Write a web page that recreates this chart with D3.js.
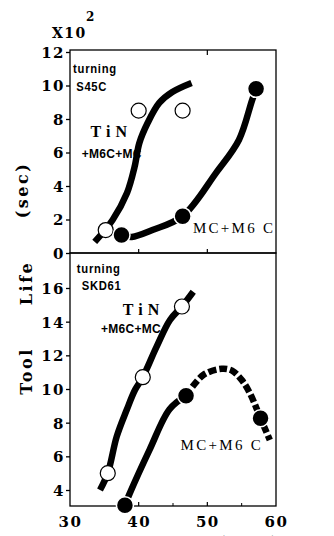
<!DOCTYPE html>
<html>
<head>
<meta charset="utf-8">
<script src="https://cdn.jsdelivr.net/npm/d3@7"></script>
<style>
  body { margin: 0; background: #fff; }
  svg { display: block; }
  .tick text { font-family: "DejaVu Serif", serif; font-weight: bold; font-size: 15px; letter-spacing: 1.5px; }
</style>
</head>
<body>
<svg id="chart"></svg>
<script>
var W = 334, H = 536;

// x: vol% of carbides
var xTicks = [30, 40, 50, 60];
var topYTicks = [0, 2, 4, 6, 8, 10, 12];
var botYTicks = [4, 6, 8, 10, 12, 14, 16];

// top panel (S45C), tool life x10^2 sec
var topTinLine = [[33.6, 0.66], [36.2, 1.97], [38.3, 3.58], [39.4, 5.13], [40.1, 6.57], [41.3, 7.76], [43.0, 8.96], [44.9, 9.61], [47.7, 10.15]];
var topTinPts = [[35.2, 1.37], [40.0, 8.5], [46.4, 8.5]];
var topMcLine = [[37.5, 1.07], [39.0, 0.96], [42.0, 1.37], [46.4, 2.2], [51.3, 4.8], [54.6, 6.75], [56.5, 9.1], [57.1, 9.8]];
var topMcPts = [[37.5, 1.07], [46.4, 2.2], [57.1, 9.8]];

// bottom panel (SKD61)
var botTinLine = [[34.37, 4.0], [35.5, 5.0], [36.8, 7.17], [38.25, 8.75], [39.46, 9.94], [40.6, 10.7], [42.6, 12.5], [44.56, 14.1], [46.3, 14.9], [47.95, 15.78]];
var botTinPts = [[35.5, 5.0], [40.6, 10.7], [46.3, 14.9]];
var botMcSolid = [[38.0, 3.1], [38.7, 3.8], [41.6, 6.4], [44.5, 8.8], [46.9, 9.6]];
var botMcDash = [[46.9, 9.6], [49.4, 10.83], [52.1, 11.2], [53.6, 11.09], [55.0, 10.54], [56.2, 9.75], [57.75, 8.26], [59.1, 6.97]];
var botMcPts = [[38.0, 3.1], [46.9, 9.6], [57.75, 8.26]];

var svg = d3.select("#chart").attr("width", W).attr("height", H);

var x = d3.scaleLinear().domain([30, 60]).range([70, 276]);
var yTop = d3.scaleLinear().domain([0, 12]).range([253, 52]);
var yBot = d3.scaleLinear().domain([4, 16]).range([490, 288]);

var slabFont = "'DejaVu Serif', serif";

function panel(yS, yTicks, y0, y1) {
  var g = svg.append("g");
  g.append("rect")
    .attr("x", x(30)).attr("y", y0)
    .attr("width", x(60) - x(30)).attr("height", y1 - y0)
    .attr("fill", "none").attr("stroke", "#000").attr("stroke-width", 1.3);

  var ax = g.append("g")
    .attr("transform", "translate(" + x(30) + ",0)")
    .call(d3.axisLeft(yS).tickValues(yTicks).tickSize(4).tickPadding(1).tickFormat(d3.format("d")));
  ax.select(".domain").remove();
  ax.selectAll("line").attr("stroke-width", 1.3);
  ax.selectAll("text").attr("dy", "0.36em");

  // small inward ticks on the bottom edge
  [40, 50].forEach(function(v) {
    g.append("line").attr("x1", x(v)).attr("x2", x(v))
      .attr("y1", y1).attr("y2", y1 - 4).attr("stroke", "#000").attr("stroke-width", 1.2);
  });
  return g;
}

var gTop = panel(yTop, topYTicks, 50, 253);
var gBot = panel(yBot, botYTicks, 253, 506);
gTop.append("line").attr("x1", x(50)).attr("x2", x(50)).attr("y1", 50).attr("y2", 55)
  .attr("stroke", "#000").attr("stroke-width", 1.2);
[45, 55].forEach(function(v) {
  gBot.append("line").attr("x1", x(v)).attr("x2", x(v))
    .attr("y1", 506).attr("y2", 503).attr("stroke", "#000").attr("stroke-width", 1);
});

// x axis labels
var xa = svg.append("g")
  .attr("transform", "translate(0,506)")
  .call(d3.axisBottom(x).tickValues(xTicks).tickSize(0).tickPadding(10).tickFormat(d3.format("d")));
xa.select(".domain").remove();
xa.selectAll("text").attr("dy", "0.71em");

// curves
function drawCurve(g, data, yS, dash) {
  var line = d3.line()
    .x(function(d) { return x(d[0]); })
    .y(function(d) { return yS(d[1]); })
    .curve(d3.curveCatmullRom.alpha(0.5));
  g.append("path").datum(data)
    .attr("d", line)
    .attr("fill", "none")
    .attr("stroke", "#000")
    .attr("stroke-width", 6.5)
    .attr("stroke-dasharray", dash ? "8,3" : null);
}

function drawPts(g, data, yS, filled) {
  g.selectAll(null).data(data).enter().append("circle")
    .attr("cx", function(d) { return x(d[0]); })
    .attr("cy", function(d) { return yS(d[1]); })
    .attr("r", filled ? 8.5 : 7.5)
    .attr("fill", filled ? "#000" : "#fff")
    .attr("stroke", filled ? "#fff" : "#000")
    .attr("stroke-width", filled ? 1.5 : 1.2);
}

drawCurve(gTop, topTinLine, yTop, false);
drawCurve(gTop, topMcLine, yTop, false);
drawPts(gTop, topTinPts, yTop, false);
drawPts(gTop, topMcPts, yTop, true);

drawCurve(gBot, botTinLine, yBot, false);
drawCurve(gBot, botMcSolid, yBot, false);
drawCurve(gBot, botMcDash, yBot, true);
drawPts(gBot, botTinPts, yBot, false);
drawPts(gBot, botMcPts, yBot, true);

// annotations (positions in data units)
var notes = [
  { t: "turning", x: 30.45, y: 10.75, s: yTop, cls: "small" },
  { t: "S45C", x: 30.9, y: 9.7, s: yTop, cls: "small" },
  { t: "TiN", x: 33.0, y: 6.9, s: yTop, cls: "big" },
  { t: "+M6C+MC", x: 31.7, y: 5.7, s: yTop, cls: "mid" },
  { t: "MC+M6 C", x: 47.9, y: 1.2, s: yTop, cls: "serif" },
  { t: "turning", x: 31.0, y: 16.9, s: yBot, cls: "small" },
  { t: "SKD61", x: 31.7, y: 15.9, s: yBot, cls: "small" },
  { t: "TiN", x: 37.7, y: 14.4, s: yBot, cls: "big" },
  { t: "+M6C+MC", x: 34.5, y: 13.3, s: yBot, cls: "mid" },
  { t: "MC+M6 C", x: 46.1, y: 6.4, s: yBot, cls: "serif" }
];

notes.forEach(function(n) {
  var t = svg.append("text").text(n.t)
    .attr("x", x(n.x)).attr("y", n.s(n.y))
    .attr("fill", "#000");
  if (n.cls == "small") {
    t.attr("font-family", "Liberation Sans, Arial, sans-serif").attr("font-weight", "bold")
      .attr("font-size", 12.5).attr("transform", "scale(0.9,1)")
      .attr("x", x(n.x) / 0.9).attr("letter-spacing", 0.8);
  } else if (n.cls == "big") {
    t.attr("font-family", "Liberation Serif, serif").attr("font-weight", "bold").attr("font-size", 16)
      .attr("letter-spacing", 5);
  } else if (n.cls == "mid") {
    t.attr("font-family", "Liberation Sans, Arial, sans-serif").attr("font-weight", "bold")
      .attr("font-size", 12).attr("letter-spacing", 0.3);
  } else {
    t.attr("font-family", "Liberation Serif, serif").attr("font-size", 15)
      .attr("letter-spacing", 2.3);
  }
});

// x10^2 multiplier
svg.append("text").text("X10")
  .attr("x", 52).attr("y", 38)
  .attr("font-family", slabFont).attr("font-weight", "bold").attr("font-size", 14)
  .attr("letter-spacing", 1.5);
svg.append("text").text("2")
  .attr("x", 86).attr("y", 21)
  .attr("font-family", slabFont).attr("font-weight", "bold").attr("font-size", 12);

// y axis title
[["Tool", 371, 32], ["Life", 283, 32], ["(sec)", 190, 28]].forEach(function(w) {
  svg.append("text").text(w[0])
    .attr("transform", "translate(" + w[2] + "," + w[1] + ") rotate(-90)")
    .attr("text-anchor", "middle")
    .attr("font-family", slabFont).attr("font-weight", "bold").attr("font-size", 16)
    .attr("letter-spacing", 2.5);
});

// x axis title, cut off at the bottom edge like the source
svg.append("text").text("MC+M6C, TiN (vol%)")
  .attr("x", 74).attr("y", 547)
  .attr("font-family", slabFont).attr("font-weight", "bold").attr("font-size", 15)
  .attr("letter-spacing", 1.5);
</script>
</body>
</html>
